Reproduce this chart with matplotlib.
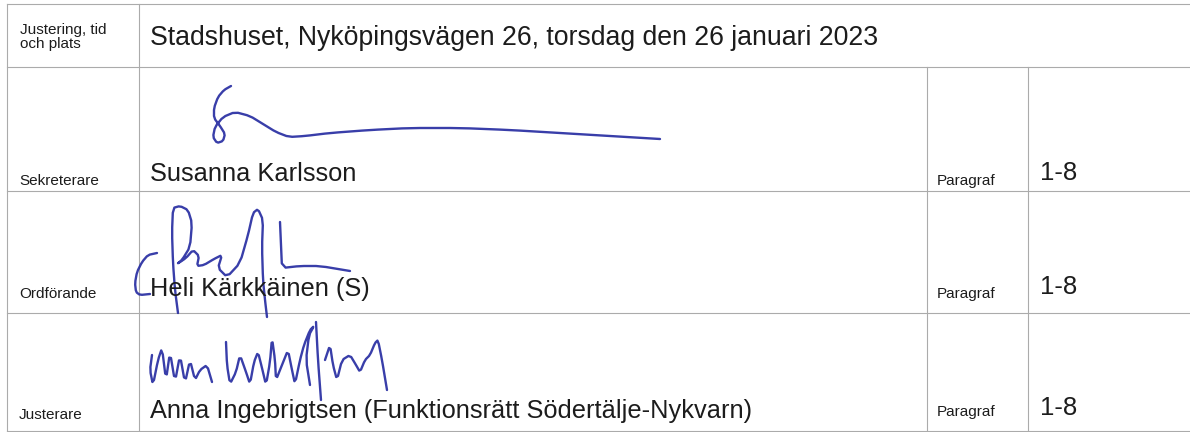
import matplotlib.pyplot as plt

# tabellens rader: etikett, namn, paragraf
row_labels = ['Justering, tid\noch plats', 'Sekreterare', 'Ordförande', 'Justerare']
row_texts = ['Stadshuset, Nyköpingsvägen 26, torsdag den 26 januari 2023',
             'Susanna Karlsson',
             'Heli Kärkkäinen (S)',
             'Anna Ingebrigtsen (Funktionsrätt Södertälje-Nykvarn)']
para_label = 'Paragraf'
para_values = ['', '1-8', '1-8', '1-8']

# linjer i tabellen (pixlar)
row_lines = [4, 67, 191, 313, 431]
col_lines = [7, 139, 927, 1028]

# namnteckningar, punkter i pixlar
sig_susanna = [
    [(231, 86), (224, 90), (218, 97), (214, 108), (214, 118), (220, 126), (225, 134),
     (223, 141), (217, 143), (213, 137), (215, 127), (223, 117), (235, 112),
     (250, 116), (263, 124), (276, 132), (289, 137), (305, 136), (330, 133),
     (370, 130), (410, 128), (460, 128), (510, 130), (560, 133), (610, 136), (660, 139)],
]
sig_heli = [
    [(157, 253), (148, 255), (142, 262), (137, 272), (135, 283), (136, 292),
     (140, 295), (150, 294)],
    [(178, 313), (175, 290), (173, 263), (172, 232), (173, 208), (180, 206),
     (188, 210), (192, 223), (190, 247), (182, 260), (177, 264), (186, 258),
     (193, 250), (199, 256), (197, 266), (204, 265), (214, 259), (222, 255),
     (218, 268), (227, 277), (240, 263), (248, 235), (253, 213), (258, 209),
     (263, 220), (262, 247), (263, 280), (265, 300), (267, 317)],
    [(280, 222), (281, 245), (282, 268), (300, 266), (320, 266), (350, 271)],
]
sig_anna = [
    [(152, 355), (150, 370), (153, 385), (158, 360), (162, 348), (166, 380),
     (170, 352), (175, 382), (180, 355), (185, 383), (190, 360), (195, 380),
     (200, 370), (207, 365), (212, 382)],
    [(226, 342), (227, 365), (230, 384), (236, 372), (240, 355), (246, 372),
     (250, 384), (254, 362), (258, 352), (262, 368), (266, 385), (270, 362),
     (272, 338), (275, 360), (276, 380), (282, 365), (288, 350), (292, 370),
     (295, 384), (300, 360), (304, 345), (310, 330), (314, 326), (309, 335),
     (306, 360), (310, 385)],
    [(316, 322), (318, 360), (321, 400)],
    [(325, 360), (330, 345), (333, 365), (337, 380), (342, 360), (350, 355),
     (356, 365), (360, 372), (365, 360), (370, 355), (375, 343), (378, 340),
     (382, 360), (387, 390)],
]

line_color = '#ababab'
ink = '#2329a0'
text_color = '#1c1c1c'


def rounded(stroke, n=1):
    # mjukar upp pennstrecket lite (Chaikin)
    pts = list(stroke)
    for _ in range(n):
        new = [pts[0]]
        for (x0, y0), (x1, y1) in zip(pts[:-1], pts[1:]):
            new.append((0.8 * x0 + 0.2 * x1, 0.8 * y0 + 0.2 * y1))
            new.append((0.2 * x0 + 0.8 * x1, 0.2 * y0 + 0.8 * y1))
        new.append(pts[-1])
        pts = new
    return pts


plt.rcParams['font.family'] = ['Liberation Sans', 'DejaVu Sans']

fig = plt.figure(figsize=(11.9, 4.32), dpi=100)
ax = fig.add_axes([0, 0, 1, 1])
ax.set_xlim(0, 1190)
ax.set_ylim(432, 0)
ax.axis('off')

# rutnät
for y in row_lines:
    ax.plot([col_lines[0], 1190], [y, y], color=line_color, lw=0.8)
for x in col_lines[:2]:
    ax.plot([x, x], [row_lines[0], row_lines[-1]], color=line_color, lw=0.8)
for x in col_lines[2:]:
    ax.plot([x, x], [row_lines[1], row_lines[-1]], color=line_color, lw=0.8)

# texter
ax.text(20, 37, row_labels[0], fontsize=11, color=text_color, va='center',
        linespacing=1.05)
ax.text(150, 45, row_texts[0], fontsize=19.2, color=text_color, va='baseline')

label_y = [None, 185, 298, 419]
name_y = [None, 181, 296, 418]
para_y = [None, 185, 298, 416]
num_y = [None, 180, 294, 415]
for i in range(1, 4):
    ax.text(19, label_y[i], row_labels[i], fontsize=11, color=text_color, va='baseline')
    ax.text(150, name_y[i], row_texts[i], fontsize=18.3, color=text_color, va='baseline')
    ax.text(937, para_y[i], para_label, fontsize=11, color=text_color, va='baseline')
    ax.text(1040, num_y[i], para_values[i], fontsize=18.5, color=text_color, va='baseline')

# namnteckningar
for sig in (sig_susanna, sig_heli, sig_anna):
    for stroke in sig:
        pts = rounded(stroke)
        xs = [p[0] for p in pts]
        ys = [p[1] for p in pts]
        ax.plot(xs, ys, color=ink, lw=1.7, solid_joinstyle='round',
                solid_capstyle='round', alpha=0.9)

fig.savefig('out.png', dpi=100)
